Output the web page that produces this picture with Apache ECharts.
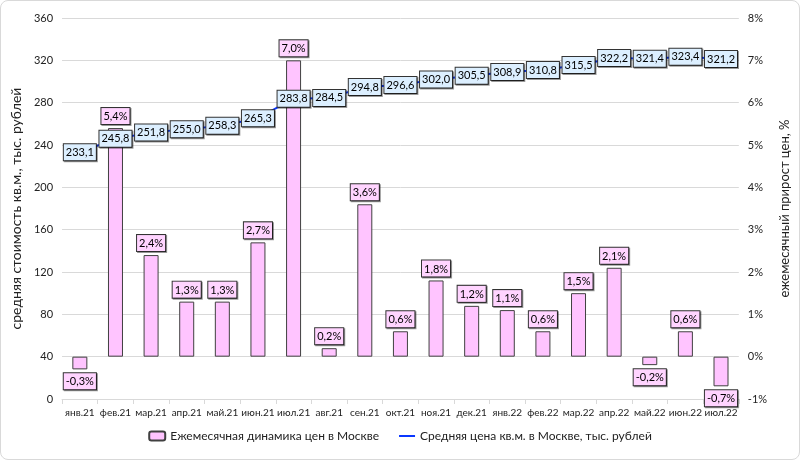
<!DOCTYPE html>
<html><head><meta charset="utf-8">
<script src="https://cdn.jsdelivr.net/npm/echarts@6/dist/echarts.min.js"></script>
<style>
html,body{margin:0;padding:0;background:#fff;}
#wrap{position:absolute;left:0;top:0;width:798px;height:458px;border:1px solid #d9d9d9;border-radius:8px;overflow:hidden;}
#c{width:798px;height:458px;}
</style></head>
<body><div id="wrap"><div id="c"></div></div>
<script>
const categories = ['янв.21','фев.21','мар.21','апр.21','май.21','июн.21','июл.21','авг.21','сен.21','окт.21','ноя.21','дек.21','янв.22','фев.22','мар.22','апр.22','май.22','июн.22','июл.22'];
const monthlyChange = [-0.3,5.4,2.4,1.3,1.3,2.7,7.0,0.2,3.6,0.6,1.8,1.2,1.1,0.6,1.5,2.1,-0.2,0.6,-0.7];
const avgPrice = [233.1,245.8,251.8,255.0,258.3,265.3,283.8,284.5,294.8,296.6,302.0,305.5,308.9,310.8,315.5,322.2,321.4,323.4,321.2];
const leftTicks = {min:0,max:360,interval:40};
const rightTicks = {min:-1,max:8,interval:1};
const barName = 'Ежемесячная динамика цен в Москве';
const lineName = 'Средняя цена кв.м. в Москве, тыс. рублей';
const leftAxisName = 'средняя стоимость кв.м., тыс. рублей';
const rightAxisName = 'ежемесячный прирост цен, %';

const FONT = "Lato,'Liberation Sans',sans-serif";
const fmt = v => v.toFixed(1).replace('.', ',');
const chart = echarts.init(document.getElementById('c'));
const labelBox = {
  fontFamily: FONT, fontSize: 11, color:'#000', fontWeight:'normal',
  borderColor:'#333', borderWidth:1, padding:[3,2,2,2],
  shadowColor:'rgba(0,0,0,0.4)', shadowOffsetX:1, shadowOffsetY:1, shadowBlur:0
};
chart.setOption({
  animation:false,
  textStyle:{fontFamily:FONT},
  grid:{left:48.5,right:48.5,top:17,bottom:60,containLabel:false},
  legend:{
    bottom:12, left:'center', itemGap:20, itemWidth:16, itemHeight:9,
    textStyle:{fontFamily:FONT,fontSize:12,color:'#222'},
    data:[{name:barName,icon:'roundRect'},{name:lineName,icon:'path://M0,0 L16,0 L16,2 L0,2 Z',itemStyle:{color:'#0a37ff'}}]
  },
  xAxis:{
    type:'category', data:categories, boundaryGap:true,
    axisLine:{show:true,lineStyle:{color:'#d9d9d9'}},
    axisTick:{show:true,alignWithLabel:false,length:5,lineStyle:{color:'#d9d9d9'}},
    axisLabel:{fontFamily:FONT,fontSize:10,color:'#222',margin:9,interval:0}
  },
  yAxis:[{
    type:'value', min:leftTicks.min, max:leftTicks.max, interval:leftTicks.interval,
    name:leftAxisName, nameLocation:'middle', nameGap:26, nameRotate:90,
    nameTextStyle:{fontFamily:FONT,fontSize:14,color:'#222'},
    axisLine:{show:false}, axisTick:{show:false},
    axisLabel:{fontFamily:FONT,fontSize:11,color:'#222',margin:9},
    splitLine:{lineStyle:{color:'#d9d9d9',width:1}}
  },{
    type:'value', min:rightTicks.min, max:rightTicks.max, interval:rightTicks.interval,
    name:rightAxisName, nameLocation:'middle', nameGap:34, nameRotate:90,
    nameTextStyle:{fontFamily:FONT,fontSize:13,color:'#222'},
    axisLine:{show:false}, axisTick:{show:false},
    axisLabel:{fontFamily:FONT,fontSize:11,color:'#222',margin:9,formatter:'{value}%'},
    splitLine:{show:false}
  }],
  series:[{
    name:barName, type:'bar', yAxisIndex:1, barWidth:15,
    itemStyle:{color:'#ffc4ff',borderColor:'#404040',borderWidth:1},
    label:Object.assign({show:true,distance:4,backgroundColor:'#ffd4ff',formatter:p=>fmt(p.value)+'%'},labelBox),
    data: monthlyChange.map(v=>({value:v,label:{position: v<0?'bottom':'top'}})),
    z:2
  },{
    name:lineName, type:'line', yAxisIndex:0, showSymbol:true, symbol:'circle', symbolSize:1,
    lineStyle:{color:'#0a37ff',width:2}, itemStyle:{color:'#0a37ff'},
    label:Object.assign({show:true,position:'inside',backgroundColor:'#dcefff',formatter:p=>fmt(p.value)},labelBox),
    labelLayout:{hideOverlap:false},
    data: avgPrice,
    z:3
  }]
});
</script></body></html>
